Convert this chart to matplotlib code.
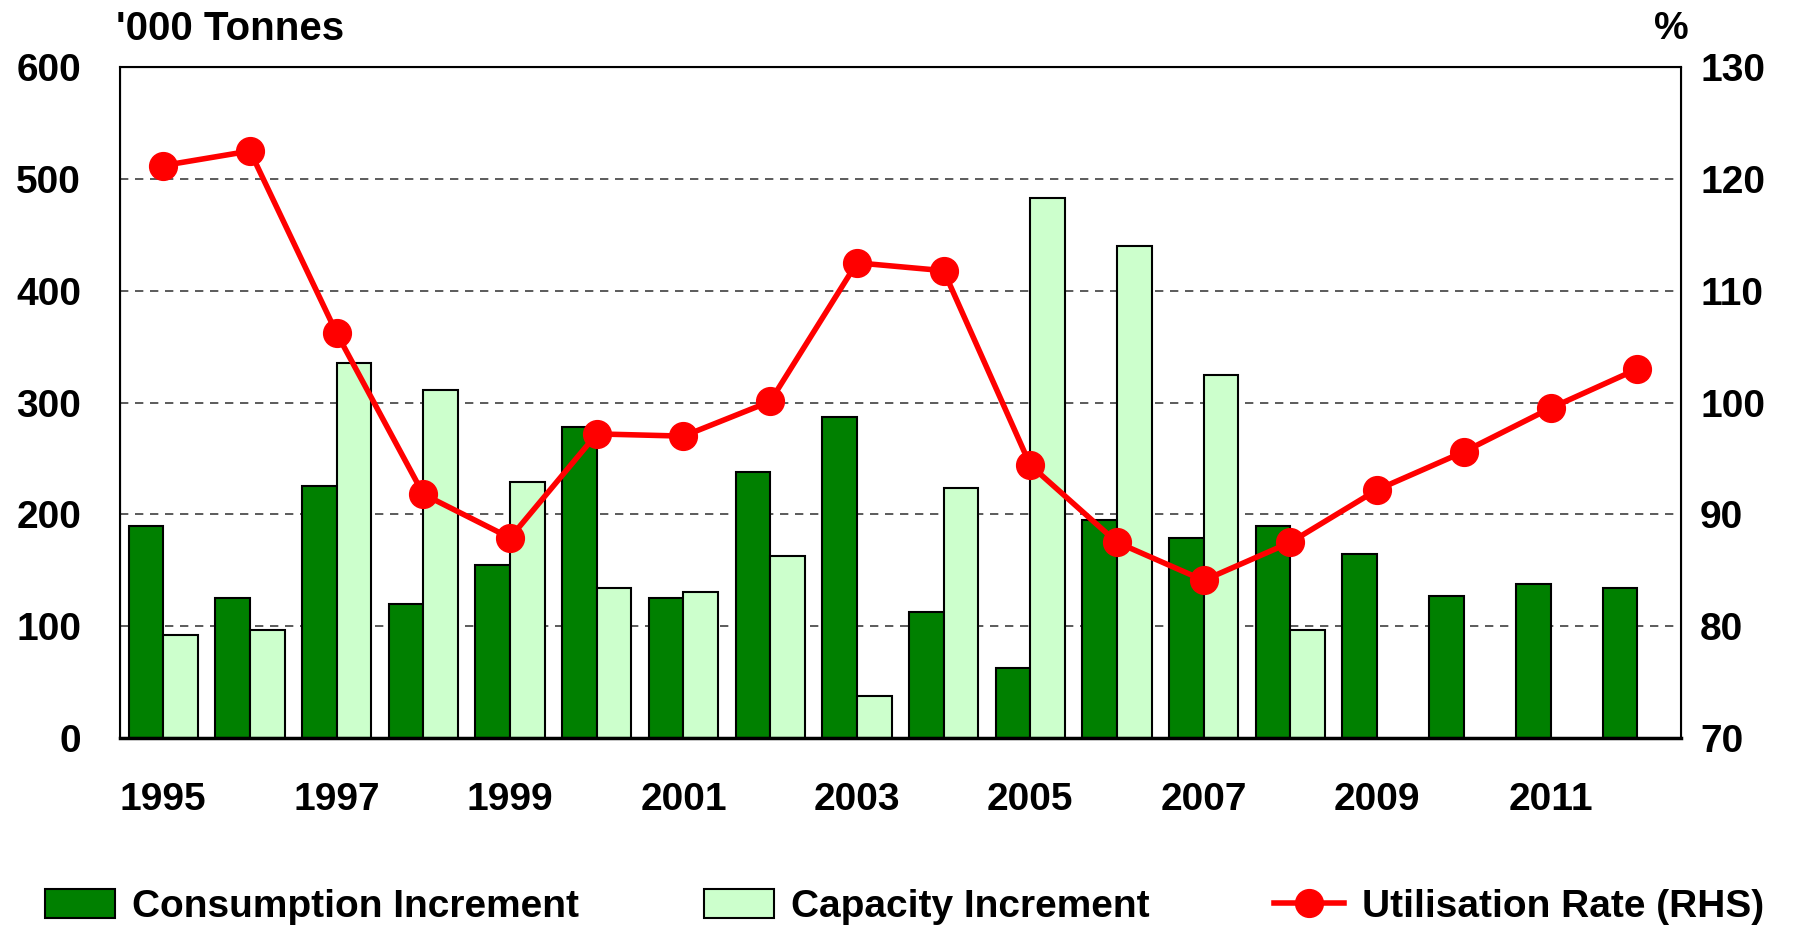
import numpy as np
import matplotlib
matplotlib.use('Agg')
import matplotlib.pyplot as plt
from matplotlib.patches import Patch
from matplotlib.lines import Line2D

plt.rcParams['font.family'] = ['Liberation Sans', 'DejaVu Sans']
plt.rcParams['font.weight'] = 'bold'

# data
years = list(range(1995, 2013))
consumption = [190, 125, 225, 120, 155, 278, 125, 238, 287, 113, 63, 195, 179, 190, 165, 127, 138, 134]
capacity = [92, 97, 335, 311, 229, 134, 131, 163, 38, 224, 483, 440, 325, 97, np.nan, np.nan, np.nan, np.nan]
utilisation = [121.2, 122.5, 106.2, 91.8, 87.9, 97.2, 97.0, 100.1, 112.5, 111.8,
               94.4, 87.5, 84.1, 87.5, 92.2, 95.6, 99.5, 103.0]
left_ticks = [0, 100, 200, 300, 400, 500, 600]
right_ticks = [70, 80, 90, 100, 110, 120, 130]

dark_green = '#008000'
light_green = '#CCFFCC'
red = '#FF0000'

fig = plt.figure(figsize=(18.09, 9.33), dpi=100)
ax = fig.add_axes([0.0663, 0.209, 0.8627, 0.719])

x = np.arange(len(years))
w = 0.4
ax.bar(x - w / 2, consumption, w, color=dark_green, edgecolor='black', linewidth=1.5, zorder=2)
ax.bar(x + w / 2, capacity, w, color=light_green, edgecolor='black', linewidth=1.5, zorder=2)

ax.set_xlim(-0.5, len(years) - 0.5)
ax.set_ylim(0, 600)
ax.set_yticks(left_ticks)
ax.yaxis.grid(True, linestyle=(0, (5, 4)), color='#404040', linewidth=1.2, zorder=0)
ax.set_axisbelow(True)

odd = [i for i, yr in enumerate(years) if yr % 2 == 1]
ax.set_xticks(odd)
ax.set_xticklabels([str(years[i]) for i in odd])
ax.tick_params(axis='x', length=0, pad=32, labelsize=28)
ax.tick_params(axis='y', length=0, pad=28, labelsize=28)

for s in ax.spines.values():
    s.set_linewidth(1.5)
ax.spines['bottom'].set_linewidth(2.5)

ax2 = ax.twinx()
ax2.plot(x, utilisation, color=red, linewidth=4, marker='o', markersize=20, zorder=3)
ax2.set_ylim(70, 130)
ax2.set_yticks(right_ticks)
ax2.tick_params(axis='y', length=0, pad=14, labelsize=28)

fig.text(0.064, 0.969, "'000 Tonnes", fontsize=29, fontweight='bold', va='center', ha='left')
fig.text(0.924, 0.969, "%", fontsize=28, fontweight='bold', va='center', ha='center')

handles = [
    Patch(facecolor=dark_green, edgecolor='black', linewidth=1.5),
    Patch(facecolor=light_green, edgecolor='black', linewidth=1.5),
    Line2D([], [], color=red, linewidth=4, marker='o', markersize=20),
]
labels = ['Consumption Increment', 'Capacity Increment', 'Utilisation Rate (RHS)']
fig.legend(handles, labels, loc='center', bbox_to_anchor=(0.5, 0.028), ncol=3,
           frameon=False, fontsize=28, handlelength=1.8, handleheight=0.8,
           handletextpad=0.45, columnspacing=3.2)

fig.savefig('out.png', dpi=100)
